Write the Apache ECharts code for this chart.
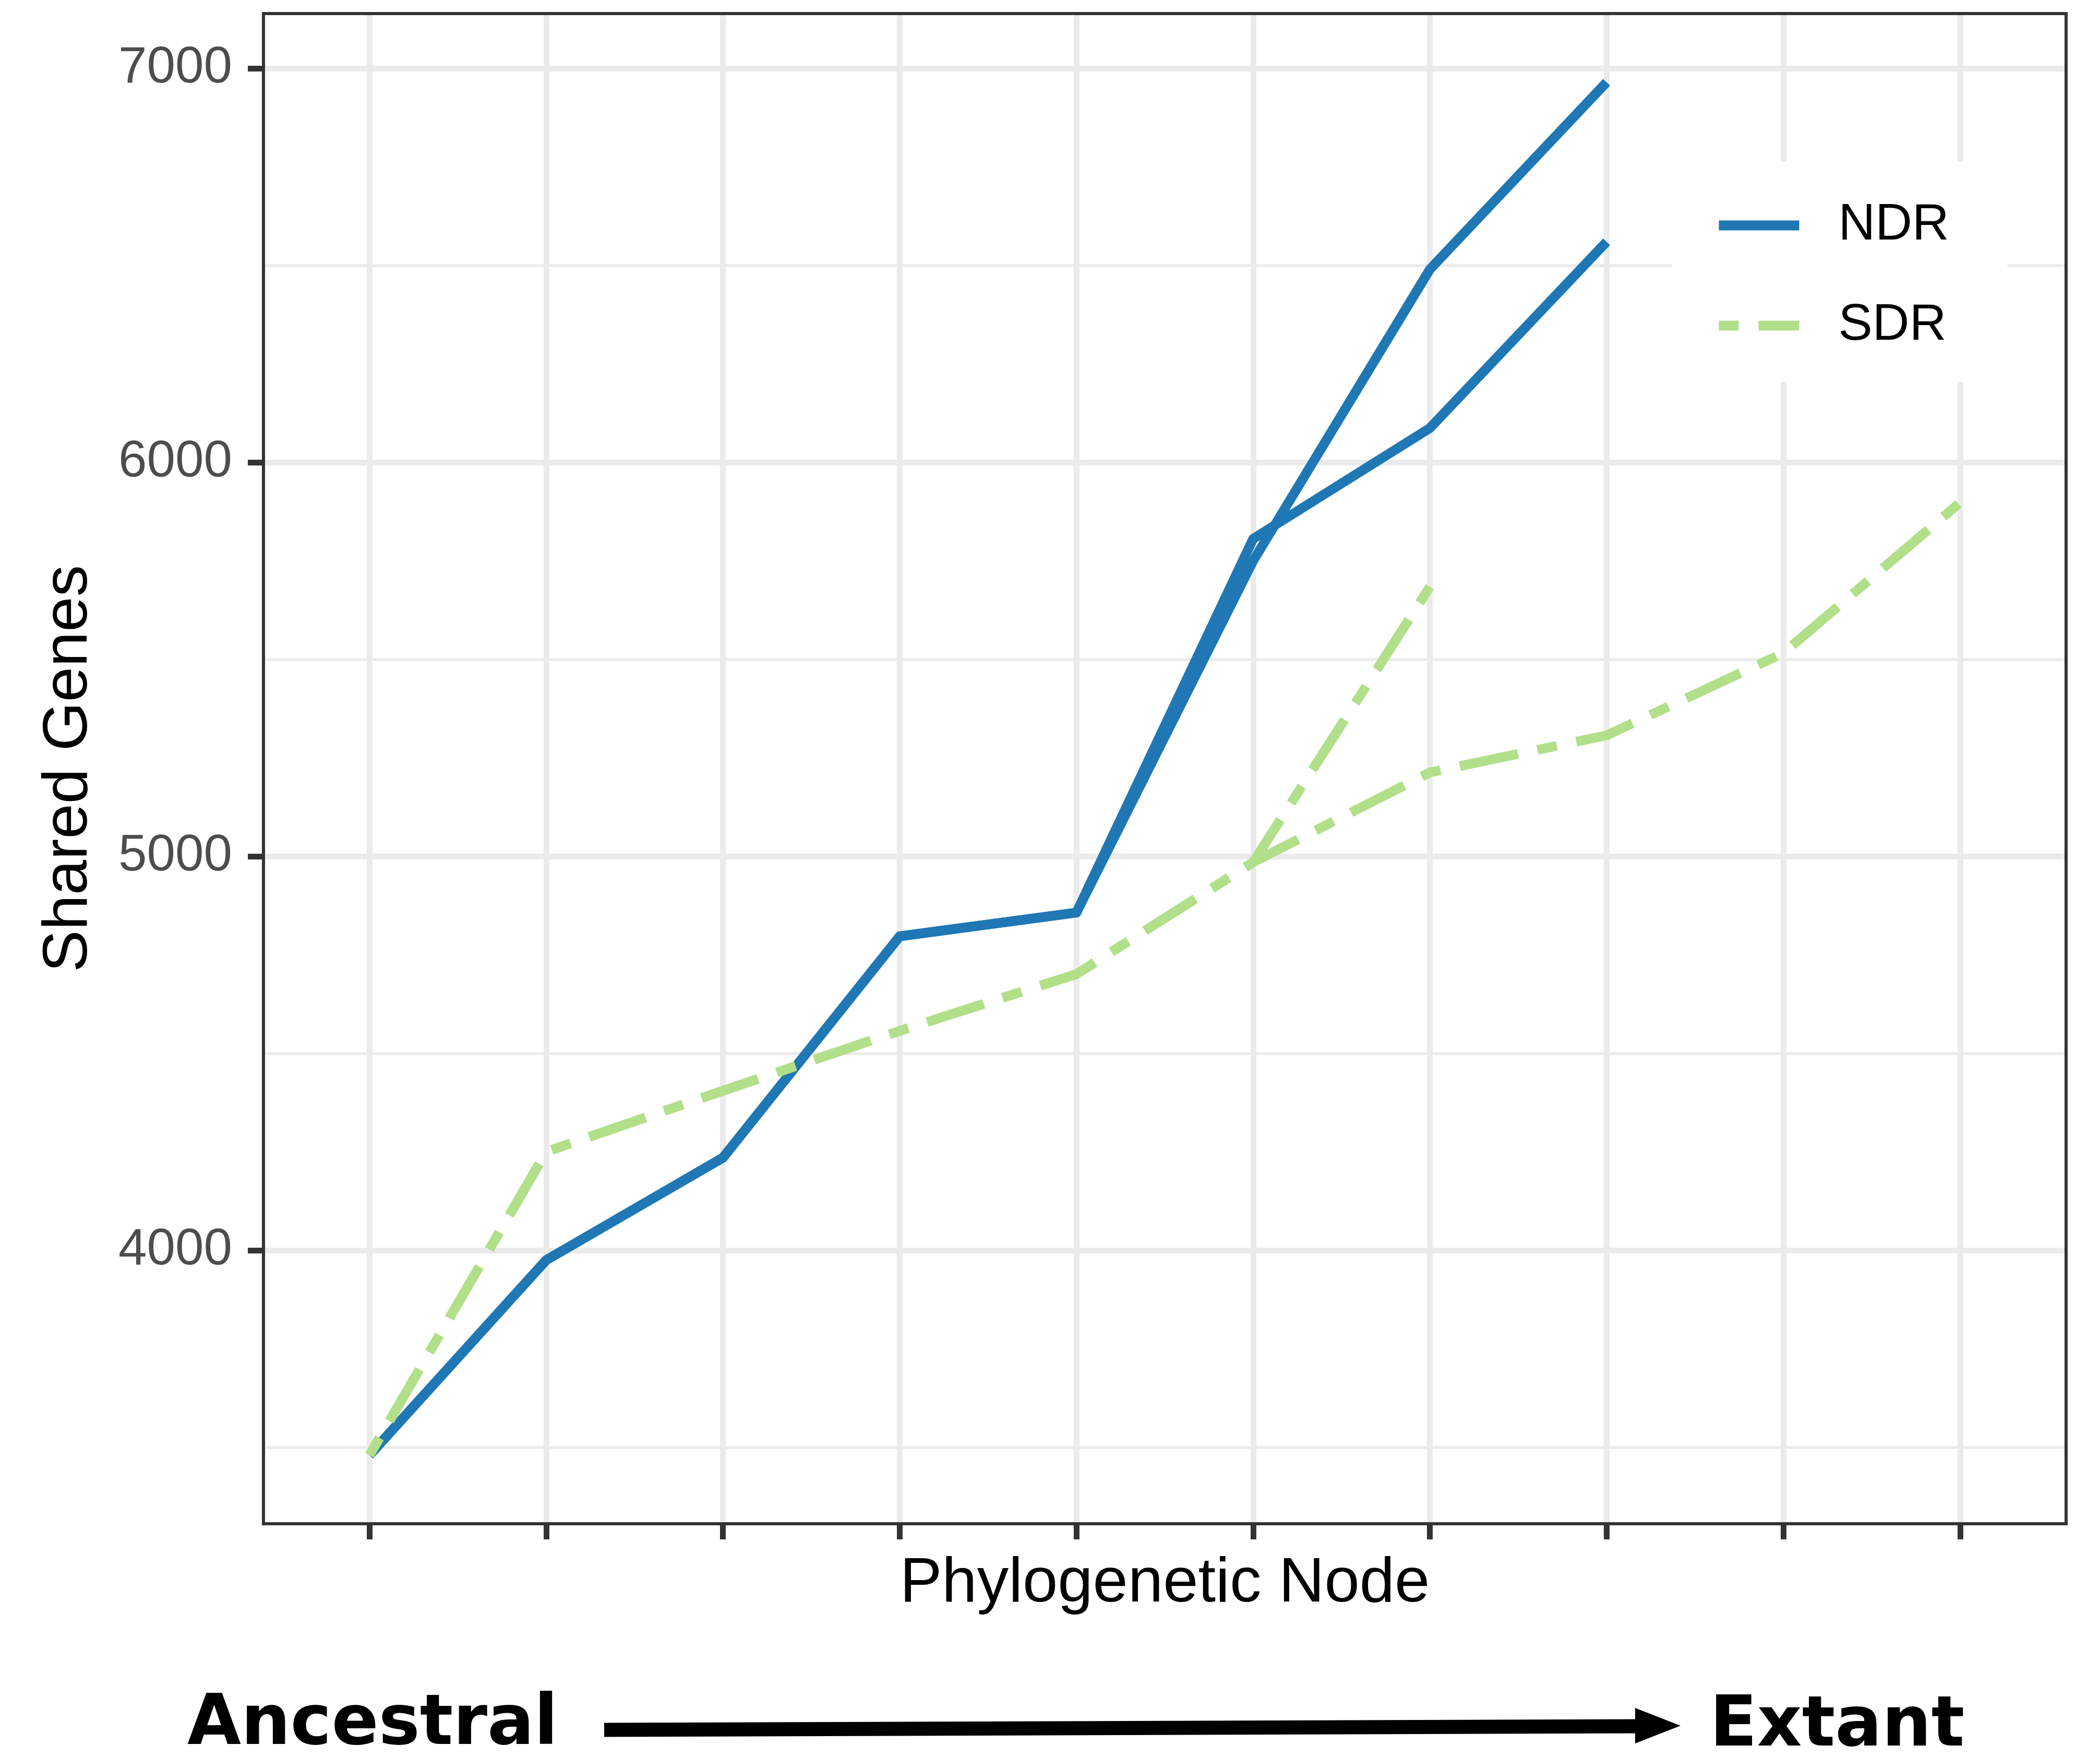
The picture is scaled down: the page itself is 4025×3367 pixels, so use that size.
<!DOCTYPE html>
<html>
<head>
<meta charset="utf-8">
<title>Shared Genes by Phylogenetic Node</title>
<script src="https://cdn.jsdelivr.net/npm/echarts@6/dist/echarts.min.js"></script>
<style>
  html, body { margin: 0; padding: 0; background: #ffffff; }
  #chart { width: 4025px; height: 3367px; }
</style>
</head>
<body>
<div id="chart"></div>
<script>
// Phylogenetic nodes, from ancestral (1) to extant (10)
const nodes = [1, 2, 3, 4, 5, 6, 7, 8, 9, 10];

// Shared gene counts along each lineage
const ndrLineageA = [3480, 3975, 4235, 4797, 4857, 5806, 6087, 6560];
const ndrLineageB = [3480, 3975, 4235, 4797, 4857, 5750, 6490, 6965];
const sdrLineageA = [3480, 4250, 4405, 4557, 4701, 4985, 5213, 5307, 5516, 5898];
const sdrLineageB = [3480, 4250, 4405, 4557, 4701, 4985, 5684];

// Axis breaks
const yMajorBreaks = [4000, 5000, 6000, 7000];
const yMinorBreaks = [3500, 4500, 5500, 6500];

const BLUE = '#1F78B4';
const GREEN = '#B2DF8A';
const GRID_GREY = '#EBEBEB';
const DARK = '#333333';
const SANS = '"Liberation Sans", Arial, Helvetica, sans-serif';
const TWODASH = [38, 38, 114, 38];
const LINE_W = 18.5;

function toPoints(values) {
  return values.map((v, i) => [nodes[i], v]);
}

// 5% padding around the data range on y, 0.6 of a step on x
const allValues = [].concat(ndrLineageA, ndrLineageB, sdrLineageA, sdrLineageB);
const yLo = Math.min.apply(null, allValues);
const yHi = Math.max.apply(null, allValues);
const yPad = (yHi - yLo) * 0.05;
const xMin = nodes[0] - 0.6;
const xMax = nodes[nodes.length - 1] + 0.6;

const chart = echarts.init(document.getElementById('chart'), null, { renderer: 'canvas' });

function lineSeries(name, values, color, dash, z) {
  return {
    name: name,
    type: 'line',
    data: toPoints(values),
    xAxisIndex: 0,
    yAxisIndex: 0,
    symbol: 'none',
    showSymbol: false,
    color: color,
    silent: true,
    z: z,
    lineStyle: { color: color, width: LINE_W, type: dash, cap: 'butt', join: 'round' },
    emphasis: { disabled: true }
  };
}

// Direction-of-time caption under the plot
const CAPTION_Y = 3310;

chart.setOption({
  animation: false,
  backgroundColor: '#ffffff',
  grid: {
    show: true,
    z: 5,
    left: 505,
    top: 26,
    width: 3455,
    height: 2894,
    backgroundColor: 'transparent',
    borderColor: DARK,
    borderWidth: 6,
    containLabel: false
  },
  xAxis: [{
    type: 'value',
    position: 'bottom',
    min: xMin,
    max: xMax,
    name: 'Phylogenetic Node',
    nameLocation: 'middle',
    nameGap: 55,
    nameMoveOverlap: false,
    nameTextStyle: { fontFamily: SANS, fontSize: 121, color: '#000000' },
    axisLine: { show: false },
    axisTick: { show: true, customValues: nodes, length: 30, lineStyle: { color: DARK, width: 11 } },
    axisLabel: { show: false },
    splitLine: { show: true, lineStyle: { color: GRID_GREY, width: 11 } },
    minorSplitLine: { show: false }
  }],
  yAxis: [{
    type: 'value',
    position: 'left',
    min: yLo - yPad,
    max: yHi + yPad,
    name: 'Shared Genes',
    nameLocation: 'middle',
    nameRotate: 90,
    nameGap: 312,
    nameMoveOverlap: false,
    nameTextStyle: { fontFamily: SANS, fontSize: 121, color: '#000000' },
    axisLine: { show: false },
    axisTick: { show: true, customValues: yMajorBreaks, length: 30, lineStyle: { color: DARK, width: 11 } },
    axisLabel: {
      show: true,
      customValues: yMajorBreaks,
      formatter: v => String(v),
      margin: 60,
      fontFamily: SANS,
      fontSize: 98,
      color: '#4D4D4D'
    },
    splitLine: { show: true, lineStyle: { color: GRID_GREY, width: 11 } }
  }, {
    // minor horizontal grid only
    type: 'value',
    position: 'left',
    min: yLo - yPad,
    max: yHi + yPad,
    axisLine: { show: false },
    axisTick: { show: false, customValues: yMinorBreaks },
    axisLabel: { show: false },
    splitLine: { show: true, lineStyle: { color: GRID_GREY, width: 5.5 } }
  }],
  legend: {
    orient: 'vertical',
    left: 3205,
    top: 310,
    padding: [72, 112, 58, 80],
    backgroundColor: '#ffffff',
    itemWidth: 154,
    itemHeight: 19,
    itemGap: 92,
    selectedMode: false,
    data: ['NDR', 'SDR'],
    itemStyle: { opacity: 0 },
    lineStyle: { width: 19 },
    textStyle: {
      fontFamily: SANS,
      fontSize: 98,
      lineHeight: 100,
      color: '#000000',
      padding: [0, 0, 0, 70]
    }
  },
  series: [
    lineSeries('NDR', ndrLineageA, BLUE, 'solid', 2),
    lineSeries('NDR', ndrLineageB, BLUE, 'solid', 2),
    lineSeries('SDR', sdrLineageA, GREEN, TWODASH, 3),
    lineSeries('SDR', sdrLineageB, GREEN, TWODASH, 3)
  ],
  graphic: [
    {
      type: 'text',
      silent: true,
      style: {
        x: 359, y: CAPTION_Y - 3,
        text: 'Ancestral',
        font: 'bold 133px "DejaVu Sans", Verdana, sans-serif',
        fill: '#000000',
        textAlign: 'left',
        textVerticalAlign: 'middle'
      }
    },
    {
      type: 'line',
      silent: true,
      shape: { x1: 1158, y1: CAPTION_Y + 5, x2: 3150, y2: CAPTION_Y - 2 },
      style: { stroke: '#000000', lineWidth: 27, lineCap: 'butt' }
    },
    {
      type: 'polygon',
      silent: true,
      shape: { points: [[3221, CAPTION_Y - 3], [3134, CAPTION_Y - 37], [3134, CAPTION_Y + 31]] },
      style: { fill: '#000000' }
    },
    {
      type: 'text',
      silent: true,
      style: {
        x: 3277, y: CAPTION_Y,
        text: 'Extant',
        font: 'bold 133px "DejaVu Sans", Verdana, sans-serif',
        fill: '#000000',
        textAlign: 'left',
        textVerticalAlign: 'middle'
      }
    }
  ]
});
</script>
</body>
</html>
